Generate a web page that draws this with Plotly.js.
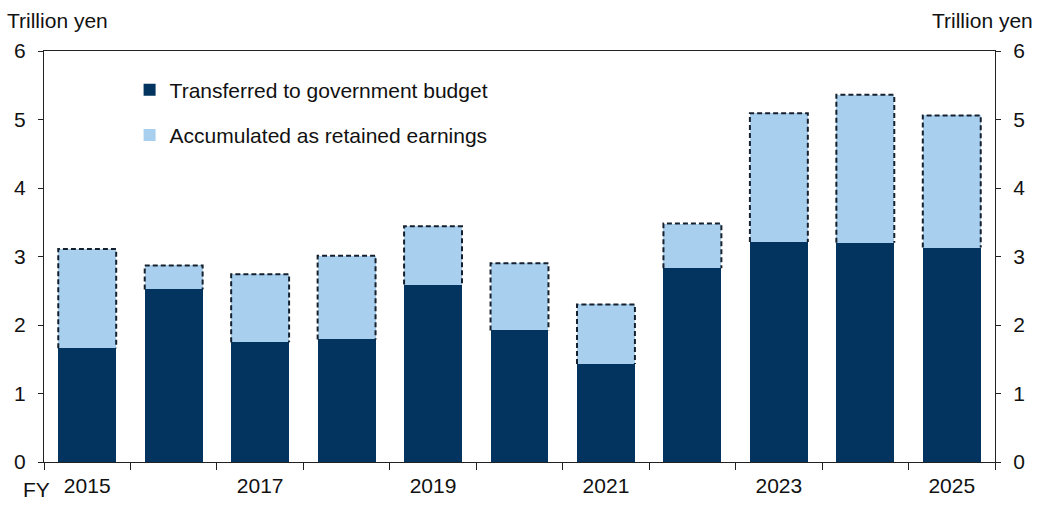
<!DOCTYPE html>
<html>
<head>
<meta charset="utf-8">
<script src="https://cdn.plot.ly/plotly-3.0.1.min.js"></script>
<style>
  html, body { margin: 0; padding: 0; background: #fff; }
  #chart { width: 1037px; height: 507px; }
</style>
</head>
<body>
<div id="chart"></div>
<script>
// fiscal years, values in trillion yen
const years = [2015, 2016, 2017, 2018, 2019, 2020, 2021, 2022, 2023, 2024, 2025]
const transferred = [1.66, 2.52, 1.75, 1.79, 2.59, 1.92, 1.43, 2.83, 3.21, 3.20, 3.13]
const totals = [3.11, 2.87, 2.74, 3.01, 3.44, 2.90, 2.30, 3.48, 5.09, 5.36, 5.06]
const labeledYears = [2015, 2017, 2019, 2021, 2023, 2025]

const retained = totals.map((v, i) => +(v - transferred[i]).toFixed(2))

const dark = "#02345f"
const light = "#a9cfee"
const ink = "#222"
const fnt = "Liberation Sans, Arial, sans-serif"
const barW = 0.67

// dashed outline round the retained part of each bar
let ox = []
let oy = []
for (let i = 0; i < years.length; i++) {
  const l = years[i] - barW / 2
  const r = years[i] + barW / 2
  ox.push(l, l, r, r, null)
  oy.push(transferred[i], totals[i], totals[i], transferred[i], null)
}

const boundaries = years.map((y) => y - 0.5).concat([years[years.length - 1] + 0.5])

const data = [
  {
    type: "bar",
    x: years,
    y: transferred,
    width: barW,
    name: "Transferred to government budget",
    legendgroup: "a",
    marker: { color: dark, line: { width: 0 } },
    hoverinfo: "skip",
  },
  {
    type: "bar",
    x: years,
    y: retained,
    width: barW,
    name: "Accumulated as retained earnings",
    legendgroup: "b",
    marker: { color: light, line: { width: 0 } },
    hoverinfo: "skip",
  },
  {
    type: "scatter",
    mode: "lines",
    x: ox,
    y: oy,
    showlegend: false,
    line: { color: "#14202e", width: 2, dash: "5px,3px" },
    hoverinfo: "skip",
  },
]

const layout = {
  width: 1037,
  height: 507,
  margin: { l: 44, r: 42, t: 51, b: 45 },
  paper_bgcolor: "#fff",
  plot_bgcolor: "#fff",
  barmode: "stack",
  font: { family: fnt, size: 21, color: "#111" },
  showlegend: true,
  legend: {
    x: 0.09,
    y: 0.955,
    xanchor: "left",
    yanchor: "top",
    traceorder: "grouped",
    tracegroupgap: 15,
    bgcolor: "rgba(0,0,0,0)",
    font: { family: fnt, size: 21, color: "#111" },
  },
  xaxis: {
    type: "linear",
    range: [years[0] - 0.5, years[years.length - 1] + 0.5],
    tickmode: "array",
    tickvals: labeledYears,
    ticktext: labeledYears.map(String),
    ticks: "",
    showgrid: false,
    zeroline: false,
    showline: true,
    mirror: true,
    linecolor: ink,
    linewidth: 1,
    ticklabelstandoff: 5,
    minor: {
      tickmode: "array",
      tickvals: boundaries,
      ticks: "outside",
      ticklen: 7,
      tickcolor: ink,
      tickwidth: 1,
      showgrid: false,
    },
  },
  yaxis: {
    range: [0, 6],
    dtick: 1,
    ticks: "outside",
    ticklen: 5,
    tickcolor: ink,
    showgrid: false,
    zeroline: false,
    showline: true,
    linecolor: ink,
    linewidth: 1,
    ticklabelstandoff: 8,
  },
  yaxis2: {
    range: [0, 6],
    dtick: 1,
    overlaying: "y",
    side: "right",
    anchor: "x",
    ticks: "outside",
    ticklen: 5,
    tickcolor: ink,
    showgrid: false,
    zeroline: false,
    showline: true,
    linecolor: ink,
    linewidth: 1,
    ticklabelstandoff: 8,
  },
  annotations: [
    {
      text: "Trillion yen",
      xref: "paper",
      yref: "paper",
      x: -0.041,
      y: 1.075,
      xanchor: "left",
      yanchor: "middle",
      showarrow: false,
    },
    {
      text: "Trillion yen",
      xref: "paper",
      yref: "paper",
      x: 1.042,
      y: 1.075,
      xanchor: "right",
      yanchor: "middle",
      showarrow: false,
    },
    {
      text: "FY",
      xref: "paper",
      yref: "paper",
      x: -0.0074,
      y: -0.0657,
      xanchor: "center",
      yanchor: "middle",
      showarrow: false,
    },
  ],
}

// invisible trace so the right axis is drawn with its labels
data.push({
  type: "scatter",
  x: [years[0]],
  y: [0],
  yaxis: "y2",
  mode: "markers",
  marker: { opacity: 0 },
  showlegend: false,
  hoverinfo: "skip",
})

Plotly.newPlot("chart", data, layout, { displayModeBar: false, staticPlot: true })
</script>
</body>
</html>
